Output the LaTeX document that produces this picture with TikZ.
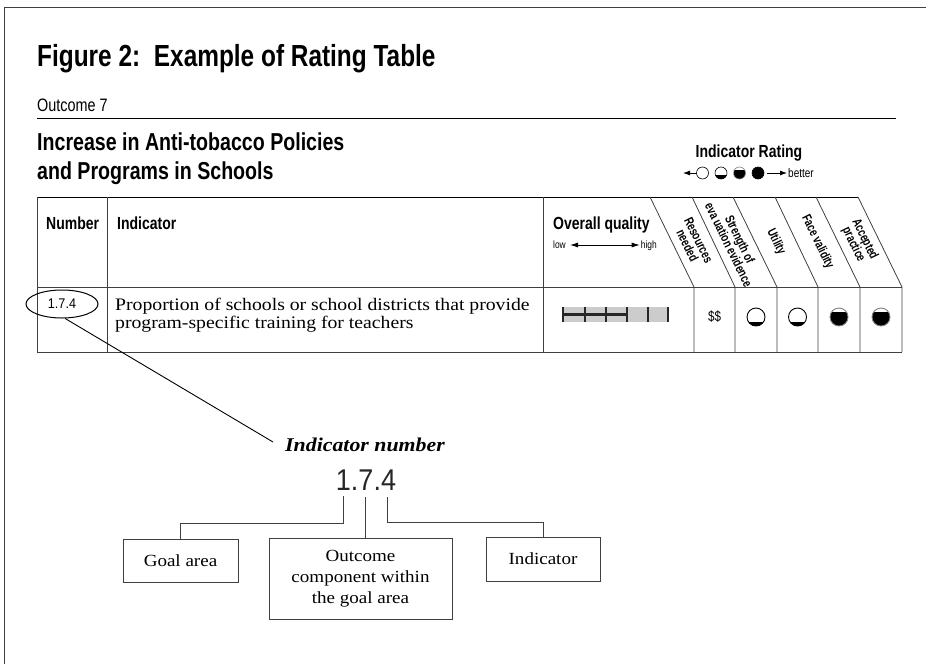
\documentclass[tikz,border=0pt]{standalone}
\usepackage{fontspec}
\setmainfont{Liberation Serif}[FakeStretch=1.12]
\newfontfamily\hc{Liberation Sans}[FakeStretch=0.8]
\newfontfamily\hk{Liberation Sans}[FakeStretch=0.74]
\newfontfamily\hn{Liberation Sans}[FakeStretch=0.9]
\usetikzlibrary{shapes.geometric,arrows.meta}
\newcommand\fsz[2]{\fontsize{#1}{#2}\selectfont}
\definecolor{ln}{gray}{0.25}
\definecolor{barg}{gray}{0.8}
\tikzset{
  tline/.style={draw=ln, line width=0.8pt},
  hdr/.style={font=\hc\bfseries\fsz{17.5}{20}, inner sep=0, anchor=base west},
  rot/.style={font=\hk\bfseries\fsz{13}{12.5}, inner sep=0, align=center, rotate=-63.9},
  rate/.style={circle, draw=black, line width=0.9pt, minimum size=18pt, inner sep=0},
  lrate/.style={circle, draw=black, line width=0.6pt, minimum size=12pt, inner sep=0},
  lowseg/.style={path picture={\fill[black] (path picture bounding box.south west) rectangle ([yshift=#1]path picture bounding box.south east);}},
  topcap/.style={path picture={\fill[black] (path picture bounding box.south west) rectangle ([yshift=-#1]path picture bounding box.north east);}},
  boxn/.style={draw=ln, line width=0.8pt, align=center, font=\fsz{17}{21}, inner sep=2pt},
  arr/.style={-{Latex[length=7pt,width=5pt]}}
}
\begin{document}
\begin{tikzpicture}[x=1pt,y=-1pt]
\useasboundingbox (0,0) rectangle (926,664);
% frame
\draw[draw=ln, line width=1pt] (926,7) -- (4,7) -- (4,664);
% title
\node[anchor=base west, inner sep=0, font=\hc\bfseries\fsz{30.5}{34}] (title) at (37,66) {Figure 2:\hspace{0.45em}Example of Rating Table};
\node[anchor=base west, inner sep=0, font=\hc\fsz{18}{20}] (outc7) at (37,111) {Outcome 7};
\draw[line width=1pt, black] (37,118) -- (896,118);
\node[anchor=base west, inner sep=0, font=\hc\bfseries\fsz{24.5}{28}] (head1) at (37,150) {Increase in Anti-tobacco Policies};
\node[anchor=base west, inner sep=0, font=\hc\bfseries\fsz{24.5}{28}] (head2) at (37,179) {and Programs in Schools};
% legend
\node[inner sep=0, font=\hc\bfseries\fsz{17.5}{20}] (irating) at (749,153) {Indicator Rating};
\coordinate (la1) at (697,173);
\coordinate (la2) at (683,173);
\draw[arr, line width=0.8pt] (la1) -- (la2);
\node[lrate] (lg1) at (702.5,173) {};
\node[lrate, lowseg=4.5pt] (lg2) at (721,173) {};
\node[lrate, topcap=3pt, draw=gray] (lg3) at (739.5,173) {};
\node[lrate, fill=black] (lg4) at (758,173) {};
\coordinate (ra1) at (767,173);
\coordinate (ra2) at (787,173);
\draw[arr, line width=0.8pt] (ra1) -- (ra2);
\node[anchor=west, inner sep=0, font=\hc\fsz{12.5}{14}] (better) at (788,173.5) {better};
% table lines
\draw[line width=1pt, black] (37,197) -- (858,197);
\draw[tline] (37,197) -- (37,352) -- (902,352);
\draw[tline] (107,197) -- (107,352);
\draw[tline] (543,197) -- (543,352);
\draw[tline] (37,287) -- (902,287);
\foreach \t/\b in {650/694,692/735,733/777,775/818,816/860,858/902}{
  \draw[tline] (\t,197) -- (\b,287) -- (\b,352);
}
% header texts
\node[hdr] (hnum) at (46,229) {Number};
\node[hdr] (hind) at (117,229) {Indicator};
\node[hdr] (hq) at (553,229) {Overall quality};
\node[anchor=base west, inner sep=0, font=\hc\fsz{10.5}{12}] (low) at (553,248) {low};
\node[anchor=base east, inner sep=0, font=\hc\fsz{10.5}{12}] (high) at (657,248) {high};
\draw[{Latex[length=8pt,width=5pt]}-{Latex[length=8pt,width=5pt]}, line width=0.8pt] ([xshift=4pt,yshift=3pt]low.base east) -- ([xshift=-1pt,yshift=3pt]high.base west);
\node[rot] (hres) at (693,243) {Resources\\needed};
\node[rot] (hstr) at (734.5,242) {Strength of\\eva uation evidence};
\node[rot] (huti) at (776,242) {Utility};
\node[rot] (hface) at (817.5,242) {Face validity};
\node[rot] (hacc) at (859,242) {Accepted\\practice};
% data row
\node[ellipse, draw=black, line width=1pt, minimum width=72pt, minimum height=28pt, inner sep=0, font=\hn\fsz{14}{16}] (ell) at (62,304) {1.7.4};
\node[anchor=base west, inner sep=0, font=\fsz{17.6}{19}] (rowa) at (115,310) {Proportion of schools or school districts that provide};
\node[anchor=base west, inner sep=0, font=\fsz{17.6}{19}] (rowb) at (115,328) {program-specific training for teachers};
% quality bar
\fill[barg] (563,307) rectangle (669,322);
\draw[line width=2.6pt, black!85] (563,314.5) -- (627,314.5);
\foreach \x in {563,585,606,627,648,668}{
  \draw[line width=1.3pt, black!85] (\x,307) -- (\x,322);
}
\node[inner sep=0, font=\hc\fsz{14.5}{16}] (dollar) at (714.5,317) {\$\$};
\node[rate, lowseg=4.5pt] (r1) at (756,317) {};
\node[rate, lowseg=4.5pt] (r2) at (797.5,317) {};
\node[rate, topcap=3.5pt, draw=gray] (r3) at (839,317) {};
\node[rate, topcap=3.5pt, draw=gray] (r4) at (881,317) {};
% lower part
\node[inner sep=0, font=\bfseries\itshape\fsz{19.5}{22}] (inum) at (365,445) {Indicator number};
\coordinate (lend) at (273,442);
\draw[line width=0.9pt, black] (ell.-78) -- (lend);
\node[inner sep=0, font=\hn\fsz{30}{32}, text=black!85] (bignum) at (366,480) {1.7.4};
\node[boxn, minimum width=115pt, minimum height=43pt] (goal) at (180.5,560.5) {Goal area};
\node[boxn, minimum width=183pt, minimum height=81pt] (outc) at (360.5,578.5) {Outcome\\component within\\the goal area};
\node[boxn, minimum width=114pt, minimum height=44pt] (indb) at (543,559) {Indicator};
\coordinate (d1) at (343,496);
\coordinate (d2) at (365,497);
\coordinate (d3) at (387,497);
\draw[tline] (d1) -- ++(0,27) -| (goal.north);
\draw[tline] (d2) -- (d2 |- outc.north);
\draw[tline] (d3) -- ++(0,25) -| (indb.north);
\end{tikzpicture}
\end{document}
